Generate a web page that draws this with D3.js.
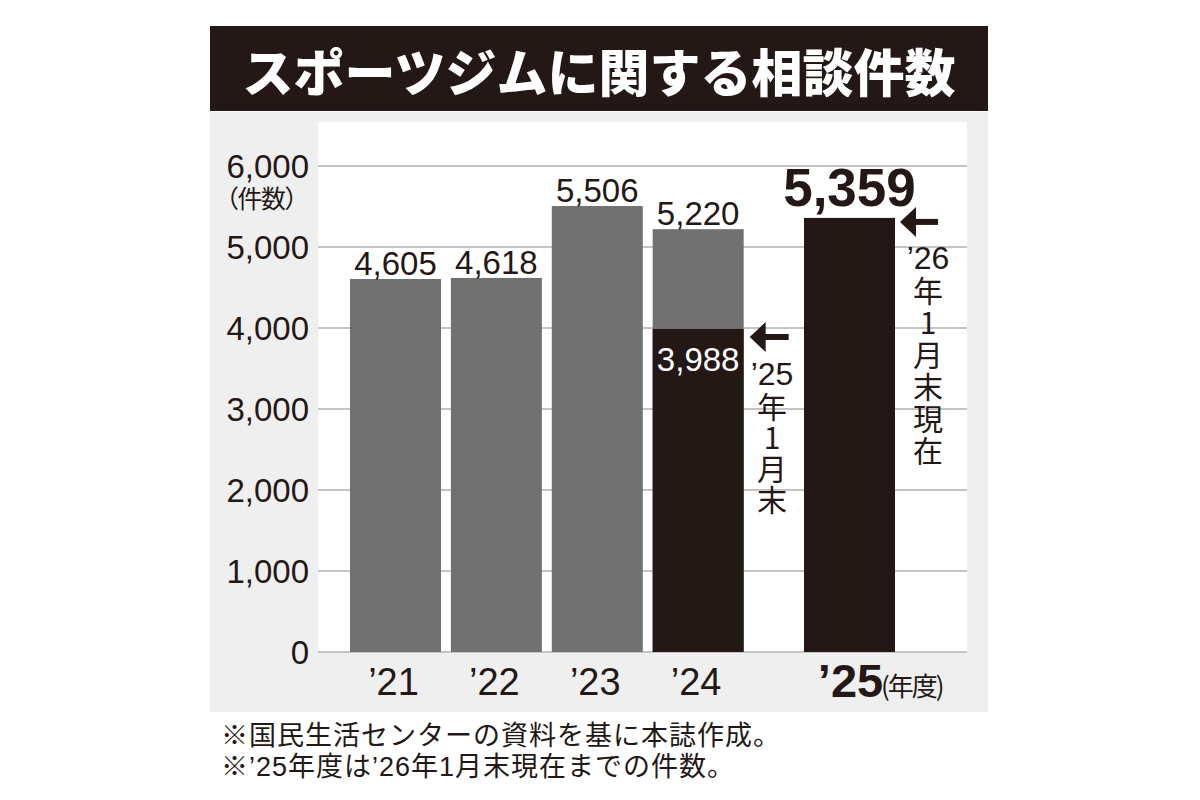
<!DOCTYPE html>
<html><head><meta charset="utf-8">
<script src="https://cdn.jsdelivr.net/npm/d3@7"></script>
<style>body{margin:0;background:#fff}svg{display:block}</style>
</head><body>
<script>
const title = "スポーツジムに関する相談件数";
const years = ["’21", "’22", "’23", "’24", "’25"];
const totals = [4605, 4618, 5506, 5220, 5359];
const upToJanuary = [null, null, null, 3988, 5359];
const yTicks = [0, 1000, 2000, 3000, 4000, 5000, 6000];
const yUnit = "（件数）";
const xUnit = "(年度)";
const noteJan25 = ["’25", "年1月末"];
const noteJan26 = ["’26", "年1月末現在"];
const footnotes = ["※国民生活センターの資料を基に本誌作成。", "※’25年度は’26年1月末現在までの件数。"];

const W = 1200, H = 800;
const ink = "#231815", gray = "#717171";
const jpMixed = "'Liberation Sans', 'Noto Sans CJK JP'";
const svg = d3.select("body").append("svg").attr("width", W).attr("height", H);
svg.append("rect").attr("width", W).attr("height", H).attr("fill", "#fff");

// title bar
svg.append("rect").attr("x", 210).attr("y", 26).attr("width", 778).attr("height", 85).attr("fill", ink);
svg.append("text").attr("x", 599).attr("y", 70).attr("text-anchor", "middle").attr("dominant-baseline", "central")
  .attr("fill", "#fff").attr("font-family", "'Noto Sans CJK JP'").attr("font-weight", 900)
  .attr("font-size", 51).text(title);

// panel
svg.append("rect").attr("x", 210).attr("y", 112).attr("width", 778).attr("height", 600).attr("fill", "#efefef");
const plot = {l: 318, r: 967, t: 122, b: 652};
svg.append("rect").attr("x", plot.l).attr("y", plot.t).attr("width", plot.r - plot.l).attr("height", plot.b - plot.t).attr("fill", "#fff");

const y = d3.scaleLinear().domain([0, 6000]).range([plot.b, 166]);
const slot = i => i < 4 ? i : i + 0.5;
const x = d3.scaleLinear().domain([0, 4.5]).range([350, 804]);
const bw = 91;
const fmt = d3.format(",");

// gridlines
svg.append("g").selectAll("line").data(yTicks).join("line")
  .attr("x1", plot.l).attr("x2", plot.r).attr("y1", d => y(d)).attr("y2", d => y(d))
  .attr("stroke", "#c4c4c4").attr("stroke-width", 2);

// y labels
svg.append("g").selectAll("text").data(yTicks).join("text")
  .attr("x", 309).attr("y", d => y(d)).attr("dy", "0.36em").attr("text-anchor", "end")
  .attr("font-family", "'Liberation Sans', Arial").attr("font-size", 33).attr("fill", ink)
  .text(d => fmt(d));
svg.append("text").attr("x", 308).attr("y", y(d3.max(yTicks)) + 42).attr("text-anchor", "end")
  .attr("font-family", jpMixed).attr("font-size", 25).attr("letter-spacing", -1.5).attr("fill", ink).text(yUnit);

// bars
const data = years.map((yr, i) => ({yr, i, total: totals[i], part: upToJanuary[i]}));
svg.append("g").selectAll("rect").data(data.filter(d => d.part === null || d.part < d.total)).join("rect")
  .attr("x", d => x(slot(d.i))).attr("width", bw).attr("y", d => y(d.total)).attr("height", d => y(0) - y(d.total))
  .attr("fill", gray);
svg.append("g").selectAll("rect").data(data.filter(d => d.part !== null)).join("rect")
  .attr("x", d => x(slot(d.i))).attr("width", bw).attr("y", d => y(d.part)).attr("height", d => y(0) - y(d.part))
  .attr("fill", ink);

// value labels
svg.append("g").selectAll("text").data(data.slice(0, 4)).join("text")
  .attr("x", d => x(slot(d.i)) + bw / 2).attr("y", d => y(d.total) - 4).attr("text-anchor", "middle")
  .attr("font-family", "'Liberation Sans', Arial").attr("font-size", 33).attr("fill", ink)
  .text(d => fmt(d.total));
const last = data[4];
svg.append("text").attr("x", x(slot(4)) + bw / 2).attr("y", y(last.total) - 12).attr("text-anchor", "middle")
  .attr("font-family", "'Liberation Sans', Arial").attr("font-weight", "bold").attr("font-size", 53).attr("fill", ink)
  .text(fmt(last.total));
const d24 = data[3];
svg.append("text").attr("x", x(slot(3)) + bw / 2).attr("y", y(d24.part) + 42).attr("text-anchor", "middle")
  .attr("font-family", "'Liberation Sans', Arial").attr("font-size", 33).attr("fill", "#fff")
  .text(fmt(d24.part));

// arrows
function arrow(xHead, yc, len) {
  const g = svg.append("g");
  g.append("path").attr("d", `M${xHead},${yc} L${xHead + 16},${yc - 15} L${xHead + 16},${yc + 15} Z`).attr("fill", ink);
  g.append("rect").attr("x", xHead + 12).attr("y", yc - 3).attr("width", len - 12).attr("height", 6).attr("fill", ink);
}
arrow(x(slot(3)) + bw + 6, y(d24.part) + 8, 39);
arrow(x(slot(4)) + bw + 5, y(last.part) + 4, 38);

// vertical notes: horizontal year, then vertical-set characters
function vnote(parts, xc, yTop, spacing) {
  svg.append("text").attr("x", xc).attr("y", yTop + 23).attr("text-anchor", "middle")
    .attr("font-family", "'Liberation Sans Narrow', 'Liberation Sans'").attr("font-size", 32).attr("fill", ink)
    .text(parts[0]);
  svg.append("text").attr("x", xc).attr("y", yTop + 30)
    .style("writing-mode", "vertical-rl").style("text-orientation", "upright")
    .attr("font-family", "'Noto Sans CJK JP'").attr("font-size", 30).attr("letter-spacing", spacing).attr("fill", ink)
    .text(parts[1]);
}
vnote(noteJan25, 772, 362, 1);
vnote(noteJan26, 928, 246, 2);

// x labels
svg.append("g").selectAll("text").data(data.slice(0, 4)).join("text")
  .attr("x", d => x(slot(d.i)) + bw / 2 - 2).attr("y", 695).attr("text-anchor", "middle")
  .attr("font-family", "'Liberation Sans Narrow', 'Liberation Sans'").attr("font-size", 38).attr("fill", ink)
  .text(d => d.yr);
svg.append("text").attr("x", x(slot(4)) + bw / 2 + 1).attr("y", 697).attr("text-anchor", "middle")
  .attr("font-family", "'Liberation Sans Narrow', 'Liberation Sans'").attr("font-weight", "bold").attr("font-size", 47).attr("fill", ink)
  .text(last.yr);
svg.append("text").attr("x", 881).attr("y", 684).attr("dominant-baseline", "central")
  .attr("font-family", "'Noto Sans CJK JP'").attr("font-size", 26).attr("letter-spacing", -2).attr("fill", ink).text(xUnit);

// footnotes
svg.append("g").selectAll("text").data(footnotes).join("text")
  .attr("x", 221).attr("y", (d, i) => 745 + i * 31)
  .attr("font-family", jpMixed).attr("font-size", 27).attr("letter-spacing", 1).attr("fill", ink).text(d => d);
</script>
</body></html>
